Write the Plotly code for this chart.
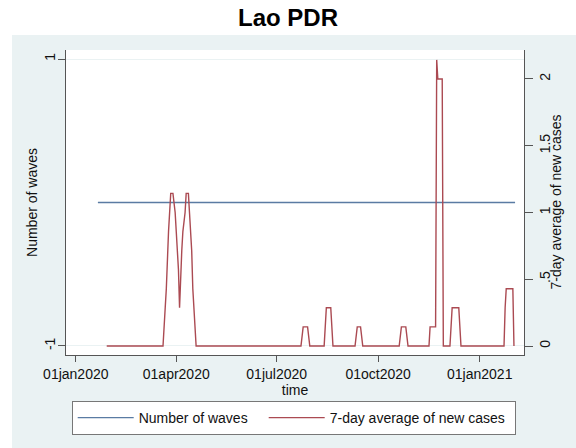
import pandas as pd
import plotly.graph_objects as go

# ---- data -------------------------------------------------------------
title_text = "Lao PDR"

# number of epidemic waves (constant over the period)
wave_dates = ["2020-01-21", "2021-02-02"]
wave_counts = [0, 0]

# 7-day average of new cases (dates where the series changes slope)
case_dates = [
    "2020-01-29", "2020-03-20", "2020-03-22", "2020-03-23", "2020-03-25",
    "2020-03-26", "2020-03-27", "2020-03-29", "2020-03-31", "2020-04-01",
    "2020-04-02", "2020-04-03", "2020-04-04", "2020-04-05", "2020-04-06",
    "2020-04-07", "2020-04-09", "2020-04-10", "2020-04-12", "2020-04-13",
    "2020-04-14", "2020-04-15", "2020-04-16", "2020-04-17", "2020-04-18",
    "2020-04-19",
    "2020-07-23", "2020-07-25", "2020-07-29", "2020-07-31",
    "2020-08-13", "2020-08-15", "2020-08-19", "2020-08-21",
    "2020-09-10", "2020-09-12", "2020-09-15", "2020-09-17",
    "2020-10-20", "2020-10-22", "2020-10-26", "2020-10-28",
    "2020-11-16", "2020-11-17", "2020-11-22", "2020-11-23", "2020-11-24",
    "2020-11-28", "2020-11-29",
    "2020-12-05", "2020-12-07", "2020-12-13", "2020-12-15",
    "2021-01-23", "2021-01-24", "2021-01-25", "2021-01-31", "2021-02-01",
]
case_avg = [
    0, 0, 0.286, 0.429, 0.857,
    1.0, 1.143, 1.143, 1.0, 0.857,
    0.714, 0.571, 0.286, 0.571, 0.714,
    0.857, 1.0, 1.143, 1.143, 1.0,
    0.857, 0.714, 0.429, 0.286, 0.143,
    0,
    0, 0.143, 0.143, 0,
    0, 0.286, 0.286, 0,
    0, 0.143, 0.143, 0,
    0, 0.143, 0.143, 0,
    0, 0.143, 0.143, 2.143, 2.0,
    2.0, 0,
    0, 0.286, 0.286, 0,
    0, 0.286, 0.429, 0.429, 0,
]

xtick_dates = ["2020-01-01", "2020-04-01", "2020-07-01", "2020-10-01", "2021-01-01"]
xtick_text = ["01jan2020", "01apr2020", "01jul2020", "01oct2020", "01jan2021"]
left_ticks = [-1, 1]
left_tick_text = ["-1", "1"]
right_ticks = [0, 0.5, 1, 1.5, 2]
right_tick_text = ["0", ".5", "1", "1.5", "2"]
right_title = "7-day average of new cases"

# ---- styling ----------------------------------------------------------
FONT = "Liberation Sans, Arial, sans-serif"
REGION = "#eaf2f3"
AXIS = "#555555"
BLUE = "#5a7ba3"
RED = "#ab4a52"

W, H = 576, 448
ML, MR, MT, MB = 66, 52, 50, 93
PW, PH = W - ML - MR, H - MT - MB

origin = pd.Timestamp("2020-01-01")
x_lo = origin + pd.Timedelta(days=-8.9)
x_hi = origin + pd.Timedelta(days=406.1)

fig = go.Figure()
fig.add_trace(go.Scatter(
    x=wave_dates, y=wave_counts, mode="lines", name="Number of waves",
    line=dict(color=BLUE, width=1.4), yaxis="y", legendwidth=120,
))
fig.add_trace(go.Scatter(
    x=case_dates, y=case_avg, mode="lines", name="7-day average of new cases",
    line=dict(color=RED, width=1.4), yaxis="y2", legendwidth=180,
))


def px_x(p):
    return (p - ML) / PW


def px_y(p):
    return (H - MB - p) / PH


fig.update_layout(
    width=W, height=H, autosize=False,
    margin=dict(l=ML, r=MR, t=MT, b=MB),
    paper_bgcolor=REGION, plot_bgcolor="white",
    font=dict(family=FONT, size=14, color="#111111"),
    title=dict(text="<b>%s</b>" % title_text, x=0.5, xanchor="center",
               y=1 - 18 / H, yanchor="middle",
               font=dict(family=FONT, size=24, color="#000000")),
    xaxis=dict(
        type="date", range=[x_lo, x_hi],
        tickvals=xtick_dates, ticktext=xtick_text,
        ticks="outside", ticklen=6, tickcolor=AXIS, tickwidth=1,
        showline=True, linecolor=AXIS, linewidth=1,
        showgrid=False, zeroline=False,
        title=dict(text="time", standoff=0, font=dict(size=14)),
    ),
    yaxis=dict(
        range=[-1.063, 1.063],
        tickvals=left_ticks, ticktext=left_tick_text, tickangle=-90,
        ticks="outside", ticklen=7, tickcolor=AXIS, tickwidth=1,
        ticklabelstandoff=-3,
        showline=True, linecolor=AXIS, linewidth=1,
        showgrid=True, gridcolor=REGION, gridwidth=1, zeroline=False,
        title=dict(text="Number of waves", standoff=1, font=dict(size=14)),
    ),
    yaxis2=dict(
        range=[-0.0674, 2.217], overlaying="y", side="right",
        tickvals=right_ticks, ticktext=right_tick_text, tickangle=-90,
        ticks="outside", ticklen=8, tickcolor=AXIS, tickwidth=1,
        ticklabelstandoff=0,
        showline=True, linecolor=AXIS, linewidth=1,
        showgrid=False, zeroline=False,
    ),
    annotations=[dict(
        text=right_title, xref="paper", yref="paper",
        x=px_x(555), y=0.5, xanchor="center", yanchor="middle",
        textangle=-90, showarrow=False, font=dict(size=14),
    )],
    legend=dict(
        orientation="h", x=px_x(71.7), xanchor="left",
        y=px_y(401), yanchor="top",
        bgcolor="white", bordercolor="#777777", borderwidth=1,
        font=dict(size=14), itemwidth=56,
    ),
    shapes=[
        # white band holding the title
        dict(type="rect", xref="paper", yref="paper", layer="below",
             x0=px_x(0), x1=px_x(W), y0=px_y(35), y1=px_y(0),
             fillcolor="white", line=dict(width=0)),
        # white strip along the left edge
        dict(type="rect", xref="paper", yref="paper", layer="below",
             x0=px_x(0), x1=px_x(12), y0=px_y(H), y1=px_y(35),
             fillcolor="white", line=dict(width=0)),
    ],
)

fig.write_html("out.html")
